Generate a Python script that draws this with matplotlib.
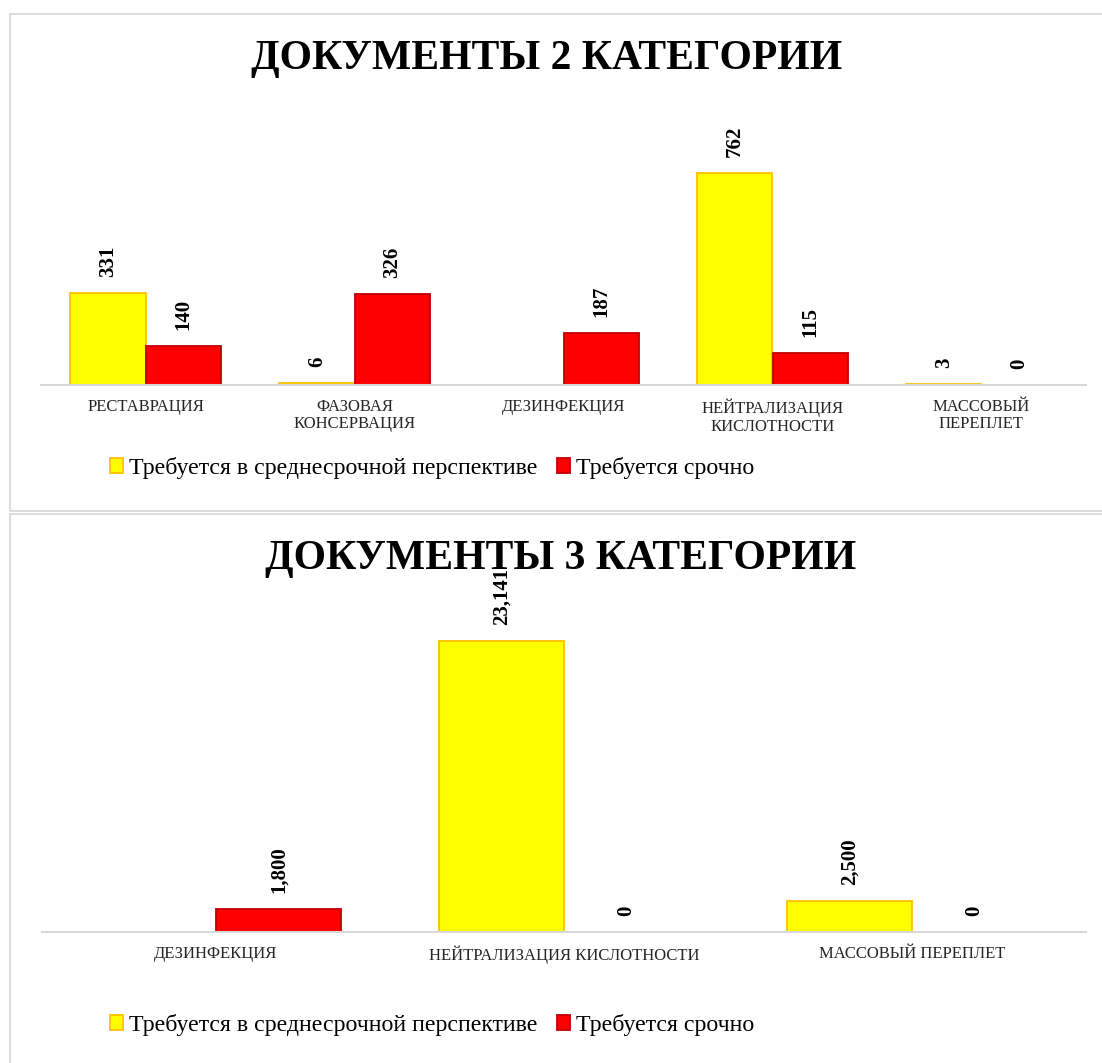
## Bar charts: documents of category 2 and 3

import numpy as np
import matplotlib.pyplot as plt
from matplotlib.patches import Rectangle

plt.rcParams['font.family'] = ['Liberation Serif', 'DejaVu Serif']

# data, chart 1
cats2 = ['РЕСТАВРАЦИЯ', 'ФАЗОВАЯ\nКОНСЕРВАЦИЯ', 'ДЕЗИНФЕКЦИЯ',
         'НЕЙТРАЛИЗАЦИЯ\nКИСЛОТНОСТИ', 'МАССОВЫЙ\nПЕРЕПЛЕТ']
mid2 = [331, 6, np.nan, 762, 3]
urgent2 = [140, 326, 187, 115, 0]

# data, chart 2
cats3 = ['ДЕЗИНФЕКЦИЯ', 'НЕЙТРАЛИЗАЦИЯ КИСЛОТНОСТИ', 'МАССОВЫЙ ПЕРЕПЛЕТ']
mid3 = [np.nan, 23141, 2500]
urgent3 = [1800, 0, 0]

names = ['Требуется в среднесрочной перспективе', 'Требуется срочно']

W, H = 1102, 1063
fig = plt.figure(figsize=(W/100, H/100), dpi=100)

#panel borders (pixels, top-left origin)
def frame(x0, y0, x1, y1):
    fig.add_artist(Rectangle((x0/W, 1-y1/H), (x1-x0)/W, (y1-y0)/H,
                             transform=fig.transFigure, fill=False,
                             edgecolor='#d9d9d9', lw=1.3))

frame(10, 14, 1115, 511)
frame(10, 514, 1115, 1075)


def panel(box, cats, mid, urgent, ymax, title, title_xy, leg_y):
    left, top, right, base = box
    ax = fig.add_axes([left/W, 1-base/H, (right-left)/W, (base-top)/H])
    x = np.arange(len(cats))
    w = 0.36
    b1 = ax.bar(x-w/2, mid, w, color='#ffff00', edgecolor='#ffc000', lw=1.3, label=names[0])
    b2 = ax.bar(x+w/2, urgent, w, color='#ff0000', edgecolor='#c00000', lw=1.3, label=names[1])

    off = ymax*16/((base-top))
    for bars, vals in [(b1, mid), (b2, urgent)]:
        for r, v in zip(bars, vals):
            if np.isnan(v):
                continue
            ax.text(r.get_x()+r.get_width()/2, v+off, f'{v:,.0f}', rotation=90,
                    ha='center', va='bottom', fontsize=15, fontweight='bold')

    ax.set_xlim(-0.5, len(cats)-0.5)
    ax.set_ylim(0, ymax)
    ax.set_xticks(x)
    ax.set_xticklabels(cats, fontsize=12, color='#262626', linespacing=1.1)
    ax.tick_params(length=0, pad=10)
    ax.set_yticks([])
    for s in ['top', 'left', 'right']:
        ax.spines[s].set_visible(False)
    ax.spines['bottom'].set_color('#d9d9d9')
    ax.spines['bottom'].set_linewidth(1.5)
    ax.set_facecolor('none')

    fig.text(title_xy[0]/W, 1-title_xy[1]/H, title, ha='center', va='baseline',
             fontsize=30, fontweight='bold')

    ax.legend(loc='center left', bbox_to_anchor=(100/W, 1-leg_y/H),
              bbox_transform=fig.transFigure, ncol=2, frameon=False,
              fontsize=17.2, handlelength=0.55, handleheight=0.55,
              handletextpad=0.25, columnspacing=0.85, borderaxespad=0)
    return ax


panel((41, 135, 1086, 385), cats2, mid2, urgent2, 900,
      'ДОКУМЕНТЫ 2 КАТЕГОРИИ', (547, 69), 468)
panel((42, 618, 1086, 932), cats3, mid3, urgent3, 25000,
      'ДОКУМЕНТЫ 3 КАТЕГОРИИ', (561, 569), 1025)

plt.savefig('out.png', dpi=100)
